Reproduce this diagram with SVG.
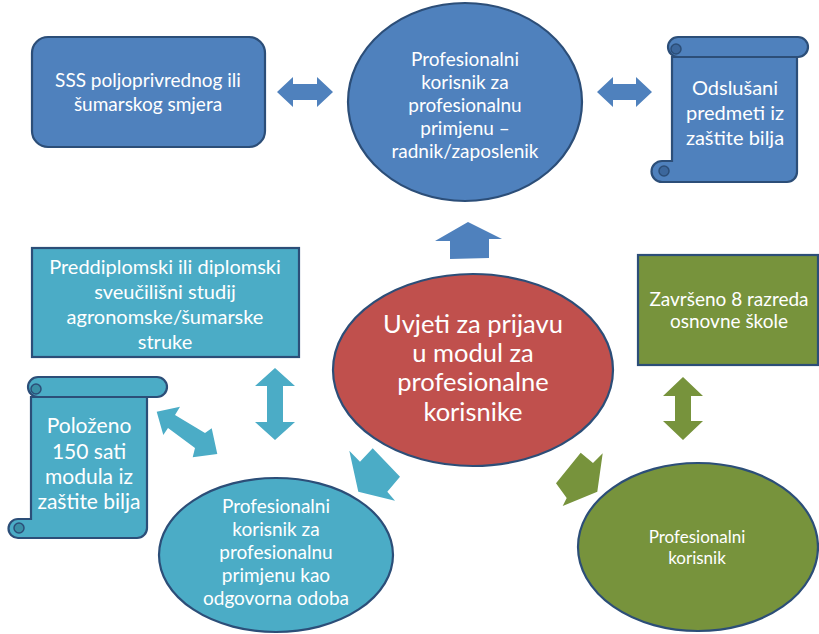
<svg xmlns="http://www.w3.org/2000/svg" width="819" height="634" viewBox="0 0 819 634">
<style>
.blue{fill:#4f81bd;}
.teal{fill:#4bacc6;}
.green{fill:#77933c;}
.red{fill:#c0504d;}
.st{stroke:#2c4e78;stroke-width:2.2;}
.curl{stroke:#2c4e78;stroke-width:1.5;}
text{font-family:Lato,"Open Sans",sans-serif;fill:#ffffff;text-anchor:middle;}
.f19{font-size:19px;}
.f20{font-size:20px;}
.f21{font-size:21px;}
.f25{font-size:25.5px;}
.f17{font-size:17px;}
</style>
<rect width="819" height="634" fill="#ffffff"/>
<g id="connectors">
<path class="blue" d="M277,92 L293,77 L293,84 L317,84 L317,77 L333,92 L317,107 L317,100 L293,100 L293,107 Z"/>
<path class="blue" d="M597,92 L613,77 L613,84 L636,84 L636,77 L652,92 L636,107 L636,100 L613,100 L613,107 Z"/>
<path class="blue" d="M468,222 L502,239 L489,239 L489,258 L450,259 L450,241 L435,241 Z"/>
<path class="teal" d="M275,368 L295,386 L283,386 L283,422 L295,422 L275,440 L255,422 L267,422 L267,386 L255,386 Z"/>
<path class="green" d="M683,377 L703,396 L691,396 L691,421 L703,421 L683,440 L663,421 L675,421 L675,396 L663,396 Z"/>
<path class="teal" d="M156.7,411.7 L180,406.7 L175,415 L205,433 L211.7,428.3 L217.3,454 L192.7,457.3 L195,448 L168,428 L163.3,435 Z"/>
<path class="teal" d="M358.3,491.7 L349.3,450.7 L360,461.7 L372.7,448.3 L400,476.7 L387.3,491.7 L395,500.7 Z"/>
<path class="green" d="M580.7,452.7 L593,463 L602.7,453.3 L597.3,491.7 L562.7,506 L566.7,498 L556,483.3 Z"/>
</g>
<g id="sss">
<rect class="blue st" x="32" y="37" width="233" height="110" rx="16"/>
<text class="f19" x="148" y="87">SSS poljoprivrednog ili</text>
<text class="f19" x="148" y="111">šumarskog smjera</text>
</g>
<g id="radnik">
<ellipse class="blue st" cx="465" cy="102" rx="117" ry="99"/>
<text class="f19" x="465" y="66">Profesionalni</text>
<text class="f19" x="465" y="89">korisnik za</text>
<text class="f19" x="465" y="112">profesionalnu</text>
<text class="f19" x="465" y="135">primjenu –</text>
<text class="f19" x="465" y="158">radnik/zaposlenik</text>
</g>
<g id="odslusani">
<path class="blue st" d="M672,57 V161 H662 A10.5,10.5 0 0 0 662,182 H787 A10,10 0 0 0 797,172 V57 Z"/>
<rect class="blue st" x="668" y="37" width="140" height="20" rx="10"/>
<circle class="blue curl" cx="676" cy="49" r="5" style="fill:#3c679c"/>
<circle class="blue curl" cx="664" cy="171" r="5" style="fill:#3c679c"/>
<text class="f20" x="735" y="95">Odslušani</text>
<text class="f20" x="735" y="120">predmeti iz</text>
<text class="f20" x="735" y="145">zaštite bilja</text>
</g>
<g id="studij">
<rect class="teal st" x="32" y="248" width="267" height="109"/>
<text class="f20" x="165" y="274">Preddiplomski ili diplomski</text>
<text class="f20" x="165" y="299">sveučilišni studij</text>
<text class="f20" x="165" y="324">agronomske/šumarske</text>
<text class="f20" x="165" y="349">struke</text>
</g>
<g id="uvjeti">
<ellipse class="red st" cx="473" cy="370" rx="140" ry="96"/>
<text class="f25" x="473" y="333">Uvjeti za prijavu</text>
<text class="f25" x="473" y="362">u modul za</text>
<text class="f25" x="473" y="391">profesionalne</text>
<text class="f25" x="473" y="421">korisnike</text>
</g>
<g id="osnovna">
<rect class="green st" x="638" y="255" width="180" height="110"/>
<text class="f19" x="729" y="306">Završeno 8 razreda</text>
<text class="f19" x="729" y="328">osnovne škole</text>
</g>
<g id="polozeno">
<path class="teal st" d="M31,397 V519 H18 A9.5,9.5 0 0 0 18,538 H137 A10,10 0 0 0 147,528 V397 Z"/>
<rect class="teal st" x="28" y="377" width="139" height="20" rx="10"/>
<circle class="teal curl" cx="36" cy="389" r="5" style="fill:#3a8fa6"/>
<circle class="teal curl" cx="19" cy="528" r="5" style="fill:#3a8fa6"/>
<text class="f21" x="89" y="433">Položeno</text>
<text class="f21" x="89" y="459">150 sati</text>
<text class="f21" x="89" y="484">modula iz</text>
<text class="f21" x="89" y="509">zaštite bilja</text>
</g>
<g id="odgovorna">
<ellipse class="teal st" cx="276" cy="555" rx="117" ry="77"/>
<text class="f19" x="276" y="513">Profesionalni</text>
<text class="f19" x="276" y="536">korisnik za</text>
<text class="f19" x="276" y="559">profesionalnu</text>
<text class="f19" x="276" y="582">primjenu kao</text>
<text class="f19" x="276" y="605">odgovorna odoba</text>
</g>
<g id="korisnik">
<ellipse class="green st" cx="698" cy="547" rx="120" ry="84"/>
<text class="f17" x="697" y="543">Profesionalni</text>
<text class="f17" x="697" y="564">korisnik</text>
</g>
</svg>
